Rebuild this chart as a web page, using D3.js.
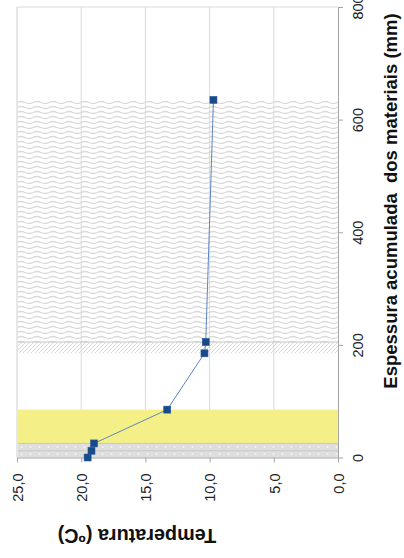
<!DOCTYPE html>
<html>
<head>
<meta charset="utf-8">
<script src="https://cdn.jsdelivr.net/npm/d3@7"></script>
<style>
  html, body { margin: 0; padding: 0; background: #fff; }
  svg { display: block; font-family: Arial, "Liberation Sans", sans-serif; }
</style>
</head>
<body>
<script>
// ---- data ----
const thickness = [0, 12, 25, 85, 185, 205, 635];          // mm (accumulated)
const temperature = [19.5, 19.2, 19.0, 13.3, 10.4, 10.3, 9.7]; // ºC
const layerStart = [0, 12, 25, 185, 205];
const layerEnd   = [12, 25, 85, 205, 635];
const layerType  = ["dots", "dots", "yellow", "hatch", "wave"];
const thicknessTicks = [0, 200, 400, 600, 800];
const temperatureTicks = [25, 20, 15, 10, 5, 0];
const thicknessTitle = "Espessura acumulada  dos materiais (mm)";
const temperatureTitle = "Temperatura (ºC)";

// ---- layout ----
const W = 404, H = 558;
const pL = 17, pR = 338, pT = 7, pB = 457.5;

const svg = d3.select("body").append("svg").attr("width", W).attr("height", H);

const x = d3.scaleLinear().domain([25, 0]).range([pL, pR]);
const y = d3.scaleLinear().domain([0, 800]).range([pB, pT]);

// ---- patterns ----
const defs = svg.append("defs");
const pd = defs.append("pattern").attr("id", "dots").attr("patternUnits", "userSpaceOnUse")
  .attr("width", 9).attr("height", 7).attr("x", pL).attr("y", pB - 3.5);
pd.append("rect").attr("width", 9).attr("height", 7).attr("fill", "#dedede");
pd.append("circle").attr("cx", 4.5).attr("cy", 0).attr("r", 0.9).attr("fill", "#f6f6f6");
pd.append("circle").attr("cx", 4.5).attr("cy", 7).attr("r", 0.9).attr("fill", "#f6f6f6");

const ph = defs.append("pattern").attr("id", "hatch").attr("patternUnits", "userSpaceOnUse")
  .attr("width", 4).attr("height", 4);
ph.append("path").attr("d", "M-1,1 l2,-2 M0,4 l4,-4 M3,5 l2,-2")
  .attr("stroke", "#d9d9d9").attr("stroke-width", 1);

const pw = defs.append("pattern").attr("id", "wave").attr("patternUnits", "userSpaceOnUse")
  .attr("width", 16).attr("height", 5).attr("x", pL);
pw.append("path").attr("d", "M0,2.5 Q4,0.4 8,2.5 T16,2.5")
  .attr("fill", "none").attr("stroke", "#dadada").attr("stroke-width", 1.4);

// ---- grid & frame ----
svg.append("g").selectAll("line").data(temperatureTicks.filter(t => t !== 0 && t !== 25))
  .join("line")
  .attr("x1", d => x(d)).attr("x2", d => x(d))
  .attr("y1", pT).attr("y2", pB)
  .attr("stroke", "#dadada").attr("stroke-width", 1);
svg.append("line").attr("x1", pL).attr("x2", pR).attr("y1", pT).attr("y2", pT)
  .attr("stroke", "#dadada");
svg.append("line").attr("x1", pL).attr("x2", pL).attr("y1", pT).attr("y2", pB)
  .attr("stroke", "#cfcfcf");

// ---- material layers ----
const fills = { dots: "url(#dots)", yellow: "#f4ef86", hatch: "url(#hatch)", wave: "url(#wave)" };
const layers = layerStart.map((s, i) => ({ s, e: layerEnd[i], t: layerType[i] }));
svg.append("g").selectAll("rect").data(layers).join("rect")
  .attr("x", pL + 1).attr("width", pR - pL - 1)
  .attr("y", d => y(d.e)).attr("height", d => y(d.s) - y(d.e))
  .attr("fill", d => fills[d.t]);
svg.append("g").selectAll("line").data(layers.filter(d => d.t === "dots" || d.t === "hatch"))
  .join("line")
  .attr("x1", pL + 1).attr("x2", pR)
  .attr("y1", d => y(d.e)).attr("y2", d => y(d.e))
  .attr("stroke", "#c6c6c6").attr("stroke-width", 1);

// ---- axes ----
const fmt = d => d3.format(".1f")(d).replace(".", ",");
const xAxis = svg.append("g").attr("transform", `translate(0,${pB})`)
  .call(d3.axisBottom(x).tickValues(temperatureTicks).tickSize(5).tickSizeOuter(0).tickFormat(fmt));
xAxis.select(".domain").attr("stroke", "#a6a6a6");
xAxis.selectAll(".tick line").attr("stroke", "#a6a6a6");
xAxis.selectAll(".tick text")
  .attr("transform", "rotate(-90)")
  .attr("x", -16).attr("y", 0).attr("dy", "0.36em")
  .attr("text-anchor", "end")
  .attr("font-size", 14.5).attr("fill", "#222");

const yAxis = svg.append("g").attr("transform", `translate(${pR},0)`)
  .call(d3.axisRight(y).tickValues(thicknessTicks).tickSize(5).tickSizeOuter(0).tickFormat(d3.format("d")));
yAxis.select(".domain").attr("stroke", "#a6a6a6");
yAxis.selectAll(".tick line").attr("stroke", "#a6a6a6");
yAxis.selectAll(".tick text")
  .attr("transform", "rotate(-90)")
  .attr("x", 0).attr("y", 25).attr("dy", 0)
  .attr("text-anchor", "middle")
  .attr("font-size", 14.5).attr("fill", "#222");

// ---- series ----
const pts = thickness.map((t, i) => ({ t, v: temperature[i] }));
svg.append("path").datum(pts)
  .attr("d", d3.line().x(d => x(d.v)).y(d => y(d.t)))
  .attr("fill", "none").attr("stroke", "#5f86bf").attr("stroke-width", 1);
svg.append("g").selectAll("rect").data(pts).join("rect")
  .attr("x", d => x(d.v) - 3.5).attr("y", d => y(d.t) - 3.5)
  .attr("width", 7).attr("height", 7)
  .attr("fill", "#174a88").attr("stroke", "#2a5b98").attr("stroke-width", 0.6);

// ---- titles ----
svg.append("text")
  .attr("transform", `translate(390,201) rotate(-90)`)
  .attr("text-anchor", "middle").attr("dy", "0.36em")
  .attr("font-size", 18.5).attr("font-weight", "bold").attr("fill", "#111")
  .style("white-space", "pre")
  .text(thicknessTitle);
svg.append("text")
  .attr("transform", `translate(137,536) rotate(180)`)
  .attr("text-anchor", "middle").attr("dy", "0.36em")
  .attr("font-size", 19.8).attr("font-weight", "bold").attr("fill", "#111")
  .text(temperatureTitle);
</script>
</body>
</html>
